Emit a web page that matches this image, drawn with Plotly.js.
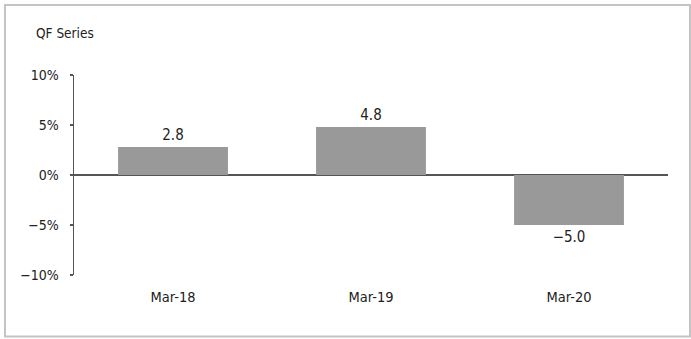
<!DOCTYPE html>
<html><head><meta charset="utf-8">
<script src="https://cdn.plot.ly/plotly-3.0.1.min.js"></script>
<style>html,body{margin:0;padding:0;background:#fff}#chart{width:691px;height:339px}
#chart svg text{font-stretch:condensed !important}</style>
</head><body><div id="chart"></div>
<script>
const categories = ["Mar-18", "Mar-19", "Mar-20"];
const values = [2.8, 4.8, -5.0];
const tickVals = [10, 5, 0, -5, -10];
const tickText = ["10%", "5%", "0%", "\u22125%", "\u221210%"];
const titleText = "QF Series";

const FONT = "'DejaVu Sans Condensed', 'DejaVu Sans', sans-serif";
const L = 74, R = 23, T = 75, B = 64, W = 691, H = 339;
const pw = W - L - R, ph = H - T - B;
const px = x => (x - L) / pw;
const py = y => (H - B - y) / ph;

const labels = values.map(v => v.toFixed(1).replace('-', '\u2212'));

const trace = {
  type: 'bar', x: categories, y: values,
  marker: {color: '#999999', line: {width: 0}},
  text: labels, textposition: 'outside', cliponaxis: false,
  textfont: {family: FONT, size: 15, color: '#222'},
  hoverinfo: 'none'
};

const layout = {
  width: W, height: H,
  margin: {l: L, r: R, t: T, b: B, pad: 0},
  paper_bgcolor: '#fff', plot_bgcolor: '#fff',
  showlegend: false,
  bargap: 0.445,
  font: {family: FONT, size: 14, color: '#222'},
  xaxis: {
    showgrid: false, zeroline: false, showline: false, ticks: '',
    tickfont: {family: FONT, size: 14.5, color: '#222'}, ticklabelstandoff: 11
  },
  yaxis: {
    range: [-10, 10], tickvals: tickVals, ticktext: tickText,
    showgrid: false, zeroline: true, zerolinecolor: '#555', zerolinewidth: 2,
    showline: true, linecolor: '#555', linewidth: 1.5,
    ticks: 'outside', ticklen: 3, tickcolor: '#555', tickwidth: 1.5,
    tickfont: {family: FONT, size: 14, color: '#222'}, ticklabelstandoff: 8
  },
  annotations: [{
    text: titleText, xref: 'paper', yref: 'paper', x: px(34), y: py(33),
    xanchor: 'left', yanchor: 'middle', showarrow: false,
    font: {family: FONT, size: 13.5, color: '#222'}
  }],
  shapes: [{
    type: 'rect', xref: 'paper', yref: 'paper',
    x0: px(5), x1: px(690), y0: py(336.5), y1: py(5),
    line: {color: '#c4c4c4', width: 2}, fillcolor: 'rgba(0,0,0,0)', layer: 'below'
  }]
};

Plotly.newPlot('chart', [trace], layout, {displayModeBar: false, staticPlot: true});
</script></body></html>
